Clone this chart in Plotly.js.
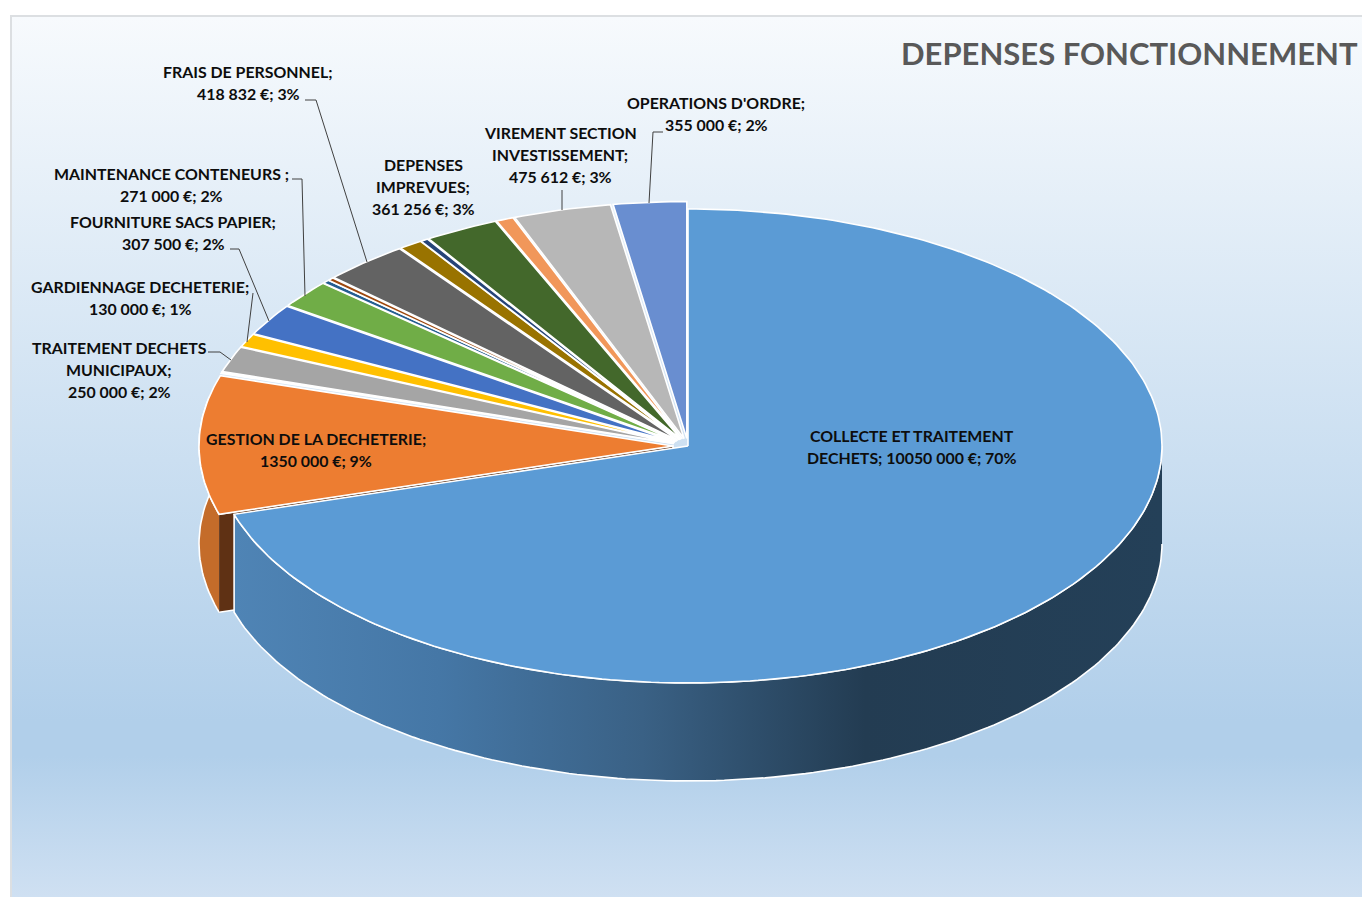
<!DOCTYPE html>
<html lang="fr">
<head>
<meta charset="utf-8">
<title>Dépenses de fonctionnement</title>
<script src="https://cdn.plot.ly/plotly-3.0.1.min.js"></script>
<style>
html,body{margin:0;padding:0;background:#fff;width:1362px;height:898px;overflow:hidden}
#frame{position:absolute;left:10px;top:15px;width:1352px;height:882px;box-sizing:border-box;
 border-left:2px solid #dcdfe2;border-top:2px solid #dcdfe2;
 background:linear-gradient(180deg,#f7fafd 0%,#b1cfea 80%,#b1cfea 84%,#cfe0f2 100%)}
#chart{position:absolute;left:0;top:0;width:1362px;height:898px}
</style>
</head>
<body>
<div id="frame"></div>
<div id="chart"></div>
<script>
// ---- data -------------------------------------------------------------
const categories = ["COLLECTE ET TRAITEMENT DECHETS","GESTION DE LA DECHETERIE","(non étiqueté 1)",
  "TRAITEMENT DECHETS MUNICIPAUX","GARDIENNAGE DECHETERIE","FOURNITURE SACS PAPIER",
  "MAINTENANCE CONTENEURS","(non étiqueté 2)","(non étiqueté 3)","FRAIS DE PERSONNEL",
  "(non étiqueté 4)","(non étiqueté 5)","DEPENSES IMPREVUES","(non étiqueté 6)",
  "VIREMENT SECTION INVESTISSEMENT","OPERATIONS D'ORDRE"];
const values = [10050000,1350000,15000,250000,130000,307500,271000,35000,30000,418832,115000,37000,361256,85000,475612,355000];
const sliceColors = ["#5b9bd5","#ed7d31","#636363","#a5a5a5","#ffc000","#4472c4","#70ad47","#255e91",
  "#9e480e","#636363","#997300","#264478","#43682b","#f1975a","#b7b7b7","#698ed0"];

const labelLines = [
  ["COLLECTE ET TRAITEMENT","DECHETS; 10050 000 €; 70%"],
  ["GESTION DE LA DECHETERIE;","1350 000 €; 9%"],
  ["TRAITEMENT DECHETS","MUNICIPAUX;","250 000 €; 2%"],
  ["GARDIENNAGE DECHETERIE;","130 000 €; 1%"],
  ["FOURNITURE SACS PAPIER;","307 500 €; 2%"],
  ["MAINTENANCE CONTENEURS ;","271 000 €; 2%"],
  ["FRAIS DE PERSONNEL;","418 832 €; 3%"],
  ["DEPENSES","IMPREVUES;","361 256 €; 3%"],
  ["VIREMENT SECTION","INVESTISSEMENT;","475 612 €; 3%"],
  ["OPERATIONS D'ORDRE;","355 000 €; 2%"]
];
const labelCenterX = [912,316,119,140,173,171,248,423,560,716];
const labelFirstY  = [435,438,347,286,221,173,71,164,132,102];
const leaderX = [[305,316,367],[292,302,305],[230,239,269],[253,247],[208,220,231],[562,562],[663,653,649]];
const leaderY = [[100,100,262],[179,179,296],[249,249,321],[293,342],[352,352,360],[190,210],[132,132,203]];

const titleText = "DEPENSES FONCTIONNEMENT";

// ---- geometry ---------------------------------------------------------
const CX = 688, CY = 446, RX = 474, RY = 237, DEPTH = 98, EXPLODE = 15;
const total = values.reduce((a,b)=>a+b,0);
const rad = d => d*Math.PI/180;
const arc = (a0,a1,ox,oy,dz) => {
  const n = Math.max(2,Math.ceil(Math.abs(a1-a0)/1.0)), xs=[], ys=[];
  for(let i=0;i<=n;i++){ const a=rad(a0+(a1-a0)*i/n);
    xs.push(CX+ox+RX*Math.sin(a)); ys.push(CY+oy-RY*Math.cos(a)+dz); }
  return [xs,ys];
};
let acc = 0;
const wedges = values.map((v,i)=>{
  const a0 = acc/total*360; acc += v; const a1 = acc/total*360;
  const mid = rad((a0+a1)/2), e = i===0 ? 0 : EXPLODE;
  return {a0,a1,ox:e*Math.sin(mid),oy:-e*0.5*Math.cos(mid)};
});
const poly = (xs,ys,fill,extra) => Object.assign({type:"scatter",mode:"lines",x:xs,y:ys,fill:"toself",
  fillcolor:fill,line:{color:"#ffffff",width:1.6},hoverinfo:"skip",showlegend:false},extra||{});

const traces = [];
// orange: outer wall and cut face
const wo = wedges[1];
{
  const [tx,ty] = arc(wo.a0,wo.a1>282?282:wo.a1,wo.ox,wo.oy,0);
  const [bx,by] = arc(wo.a0,wo.a1>282?282:wo.a1,wo.ox,wo.oy,DEPTH);
  traces.push(poly(tx.concat(bx.slice().reverse()),ty.concat(by.slice().reverse()),"#c46c2a"));
  const a = rad(wo.a0), px = CX+wo.ox+RX*Math.sin(a), py = CY+wo.oy-RY*Math.cos(a);
  const ax = CX+wo.ox, ay = CY+wo.oy;
  traces.push(poly([px,ax,ax,px],[py,ay,ay+DEPTH,py+DEPTH],"#5f3114"));
}
// main slice: outer wall
const wm = wedges[0];
{
  const [tx,ty] = arc(90,wm.a1,0,0,0);
  const [bx,by] = arc(90,wm.a1,0,0,DEPTH);
  traces.push(poly(tx.concat(bx.slice().reverse()),ty.concat(by.slice().reverse()),"#3a6185",{
    fillgradient:{type:"horizontal",colorscale:[[0,"#4f84b5"],[0.22,"#4577a6"],[0.44,"#3a6185"],[0.68,"#233c52"],[1,"#244058"]]}
  }));
}
// tops, back slices first; main slice and orange last
const order = wedges.map((_,i)=>i).filter(i=>i>1).concat([0,1]);
order.forEach(i=>{
  const w = wedges[i], [x,y] = arc(w.a0,w.a1,w.ox,w.oy,0);
  traces.push(poly([CX+w.ox].concat(x,[CX+w.ox]),[CY+w.oy].concat(y,[CY+w.oy]),sliceColors[i],{name:categories[i]}));
});
// leader lines
leaderX.forEach((lx,i)=>traces.push({type:"scatter",mode:"lines",x:lx,y:leaderY[i],
  line:{color:"#404040",width:1},hoverinfo:"skip",showlegend:false}));

// ---- text -------------------------------------------------------------
const LABEL_FONT = {family:"Lato, sans-serif",size:15.9,color:"#0d0d0d"};
const LINE_PITCH = 22.3;
const annotations = [];
labelLines.forEach((lines,i)=>lines.forEach((t,j)=>annotations.push({
  text:"<b>"+t+"</b>",x:labelCenterX[i],y:labelFirstY[i]+j*LINE_PITCH,xref:"x",yref:"y",
  showarrow:false,xanchor:"center",yanchor:"middle",font:LABEL_FONT
})));
annotations.push({text:"<b>"+titleText+"</b>",x:899,y:53,xref:"x",yref:"y",showarrow:false,
  xanchor:"left",yanchor:"middle",font:{family:"Lato, sans-serif",size:31,color:"#595959"}});

Plotly.newPlot("chart",traces,{
  width:1362,height:898,margin:{l:0,r:0,t:0,b:0},
  paper_bgcolor:"rgba(0,0,0,0)",plot_bgcolor:"rgba(0,0,0,0)",showlegend:false,
  xaxis:{range:[0,1362],visible:false,fixedrange:true},
  yaxis:{range:[898,0],visible:false,fixedrange:true},
  annotations
},{staticPlot:true,displayModeBar:false});
</script>
</body>
</html>
